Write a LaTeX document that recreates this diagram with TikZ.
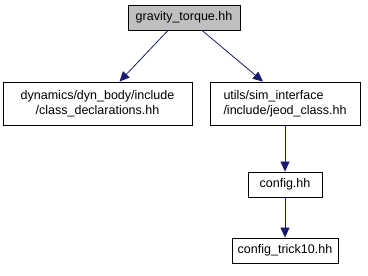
\documentclass[tikz,border=0pt]{standalone}
\usepackage{fontspec}
\setmainfont{Liberation Sans}
\usetikzlibrary{arrows.meta}

\tikzset{
  file/.style={draw=black, fill=white, line width=0.8pt, inner sep=0pt,
    minimum height=25pt, font=\fontsize{12.5}{15}\selectfont},
  hdr/.style={file, fill=black!25},
  incl/.style={color={rgb,255:red,25;green,25;blue,112},
    line width=0.8pt, -{Triangle[length=10pt,width=9pt]}}
}

\begin{document}
\begin{tikzpicture}[x=1pt,y=1pt]
\useasboundingbox (0,0) rectangle (368,276);
% include graph
\node[hdr, minimum width=112pt] (grav) at (184,258.5) {gravity\_torque.hh};
\node[file, minimum width=189pt, minimum height=43pt, align=center] (decl) at (97.5,172.5)
  {dynamics/dyn\_body/include\\/class\_declarations.hh};
\node[file, minimum width=150pt, minimum height=43pt, align=left] (jeod) at (285,172.5)
  {utils/sim\_interface\\/include/jeod\_class.hh};
\node[file, minimum width=74pt] (conf) at (285,91.5) {config.hh};
\node[file, minimum width=106pt] (trick) at (285,25.5) {config\_trick10.hh};
\draw[incl] ([xshift=-16pt]grav.south) -- ([xshift=22pt]decl.north);
\draw[incl] ([xshift=18pt]grav.south) -- ([xshift=-22pt]jeod.north);
\draw[incl] (jeod) -- (conf);
\draw[incl] (conf) -- (trick);
\end{tikzpicture}
\end{document}
